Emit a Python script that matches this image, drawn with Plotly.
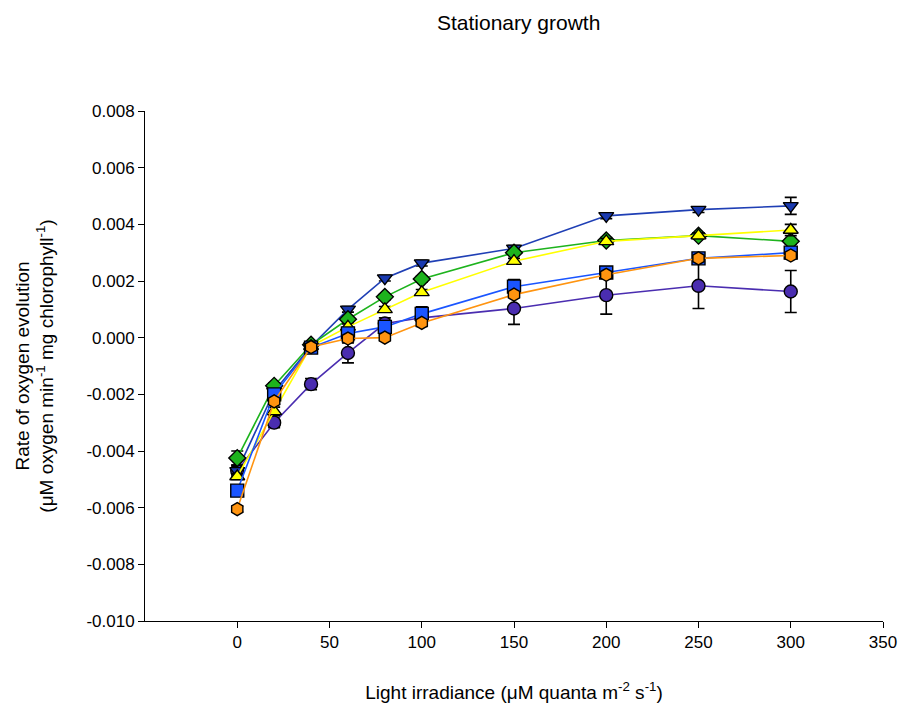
import plotly.graph_objects as go

irradiance = [0, 20, 40, 60, 80, 100, 150, 200, 250, 300]

purple_y = [-0.0047, -0.0030, -0.00164, -0.00054, 0.0005, 0.0007, 0.00103, 0.0015, 0.00183, 0.00163]
purple_err = [0.0002, 0.00018, 0.0002, 0.00035, 0.0002, 0.0003, 0.00056, 0.00067, 0.0008, 0.00074]

navy_y = [-0.0047, -0.0019, -0.0003, 0.0010, 0.0021, 0.00263, 0.00315, 0.0043, 0.00452, 0.00465]
navy_err = [0.00015, 0.0001, 0.0001, 0.0001, 0.0001, 0.0001, 0.0001, 0.0001, 0.0001, 0.0003]

green_y = [-0.00425, -0.0017, -0.00025, 0.00065, 0.00144, 0.00207, 0.0030, 0.00343, 0.0036, 0.0034]
green_err = [0.00025, 0.0001, 0.0001, 0.0001, 0.0001, 0.0001, 0.0001, 0.0001, 0.0001, 0.0001]

yellow_y = [-0.0049, -0.0026, -0.0003, 0.00038, 0.0010, 0.0016, 0.0027, 0.0034, 0.0036, 0.0038]
yellow_err = [0.0001, 0.00015, 0.0001, 0.0001, 0.0001, 0.0001, 0.0001, 0.0001, 0.0001, 0.0002]

blue_y = [-0.0054, -0.0020, -0.00035, 0.00015, 0.00038, 0.00084, 0.0018, 0.0023, 0.0028, 0.0030]
blue_err = [0.00015, 0.0001, 0.0001, 0.0001, 0.0001, 0.00025, 0.00025, 0.00015, 0.0001, 0.0001]

orange_y = [-0.00605, -0.00225, -0.00033, -0.00003, 0.0, 0.00052, 0.00152, 0.00222, 0.0028, 0.0029]
orange_err = [0.0001, 0.0001, 0.0001, 0.0001, 0.0001, 0.0001, 0.0001, 0.0001, 0.0001, 0.0001]

y_tickvals = [0.008, 0.006, 0.004, 0.002, 0.0, -0.002, -0.004, -0.006, -0.008, -0.010]
y_ticktext = ["0.008", "0.006", "0.004", "0.002", "0.000", "-0.002", "-0.004", "-0.006", "-0.008", "-0.010"]
x_tickvals = [0, 50, 100, 150, 200, 250, 300, 350]

series = [
    (purple_y, purple_err, "#4a2db0", "#4a2db0", "circle"),
    (navy_y, navy_err, "#1f3fb5", "#1a3ab0", "triangle-down"),
    (green_y, green_err, "#1db31d", "#1db31d", "diamond"),
    (yellow_y, yellow_err, "#ffff00", "#ffff00", "triangle-up"),
    (blue_y, blue_err, "#1a55ff", "#1a55ff", "square"),
    (orange_y, orange_err, "#ff9410", "#ff9410", "hexagon"),
]

fig = go.Figure()
for yv, ev, lc, mc, sym in series:
    fig.add_trace(go.Scatter(
        x=irradiance, y=yv, mode="lines+markers",
        line=dict(color=lc, width=1.6),
        marker=dict(symbol=sym, size=13, color=mc, line=dict(color="black", width=1.4)),
        error_y=dict(type="data", array=ev, visible=True, color="black", thickness=1.6, width=6),
        showlegend=False,
    ))

fig.update_layout(
    width=902, height=711,
    margin=dict(l=145, r=19, t=111, b=90),
    paper_bgcolor="white", plot_bgcolor="white",
    font=dict(family="Liberation Sans, Arial, sans-serif", size=17, color="black"),
    title=dict(text="Stationary growth", x=0.575, xref="container", y=0.968, yref="container",
               xanchor="center", yanchor="middle", font=dict(size=21, color="black")),
)
fig.update_xaxes(
    range=[-50, 350], tickvals=x_tickvals, showgrid=False, zeroline=False, automargin=False,
    showline=True, linecolor="black", linewidth=1, ticks="outside", ticklen=6, tickcolor="black",
    tickfont=dict(size=17),
    title=dict(text="Light irradiance (μM quanta m<sup>-2</sup> s<sup>-1</sup>)", font=dict(size=19), standoff=34),
)
fig.update_yaxes(
    range=[-0.010, 0.008], tickvals=y_tickvals, ticktext=y_ticktext, showgrid=False, zeroline=False,
    showline=True, linecolor="black", linewidth=1, ticks="outside", ticklen=6, tickcolor="black",
    tickfont=dict(size=17),
    title=dict(text="Rate of oxygen evolution<br>(μM oxygen min<sup>-1</sup> mg chlorophyll<sup>-1</sup>)",
               font=dict(size=19), standoff=27),
)

fig.write_html("out.html")
